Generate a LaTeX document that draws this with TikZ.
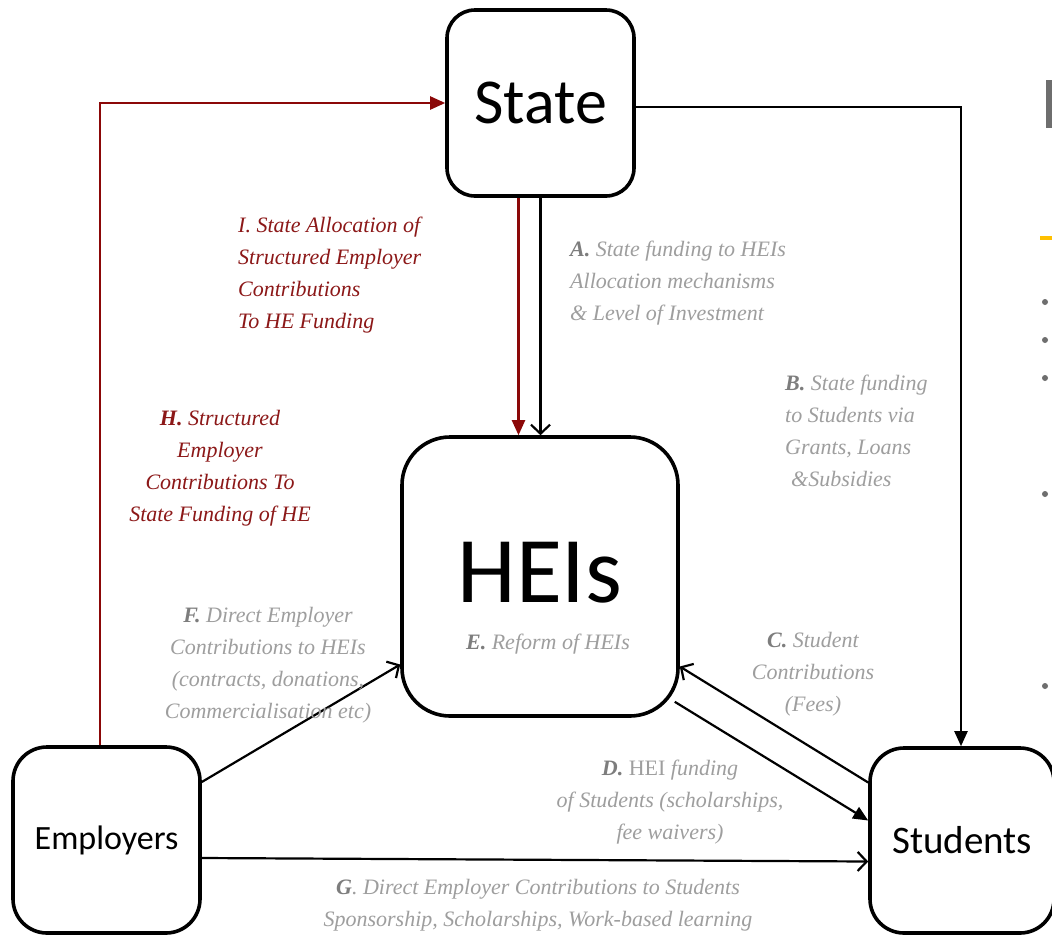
\documentclass[tikz,border=0pt]{standalone}
\usepackage{fontspec}
\setmainfont{Liberation Serif}
\newfontfamily\calib{Carlito}
\newfontfamily\labfont{Liberation Serif}
\usetikzlibrary{arrows.meta}
\definecolor{darkred}{RGB}{139,8,8}
\definecolor{redtext}{RGB}{140,24,24}
\definecolor{lgray}{RGB}{158,158,158}
\definecolor{dgray}{RGB}{125,125,125}
\definecolor{slidegray}{RGB}{110,110,110}
\definecolor{slideyellow}{RGB}{255,192,0}
\tikzset{
  box/.style={draw=black, line width=3.6pt, fill=white, inner sep=0pt, align=center},
  conn/.style={draw=black, line width=2.2pt},
  redconn/.style={draw=darkred, line width=2.2pt},
  filltip/.style={-{Triangle[length=15pt,width=13pt]}},
  opentip/.style={-{Straight Barb[length=9pt,width=19pt,line width=2.2pt]}},
  lab/.style={font=\labfont\itshape\fontsize{22}{32}\selectfont, inner sep=0pt, text=lgray},
  redlab/.style={lab, text=redtext},
}
\newcommand{\bl}[1]{{\bfseries\color{dgray}#1}}
\newcommand{\rbl}[1]{{\bfseries #1}}
\begin{document}
\begin{tikzpicture}[x=1pt,y=-1pt]
\useasboundingbox (0,0) rectangle (1052,935);
\clip (0,0) rectangle (1052,935);
\fill[white] (0,0) rectangle (1052,935);

% slide remnants at right edge
\fill[slidegray] (1046,80) rectangle (1053,128);
\draw[slideyellow, line width=4pt] (1040,238) -- (1053,238);
\foreach \yy in {302,340,378,494,686} \fill[slidegray] (1045,\yy) circle (3pt);

% boxes
\node[box, rounded corners=28pt, minimum width=187pt, minimum height=186pt,
      font=\calib\fontsize{64}{70}\selectfont] (state) at (540.5,103) {State};
\node[box, rounded corners=48pt, minimum width=276pt, minimum height=279pt] (heis) at (540,576.5) {};
\node[font=\calib\fontsize{94}{100}\selectfont, inner sep=0pt] (heistxt) at (540,573) {HEIs};
\node[box, rounded corners=34pt, minimum width=187pt, minimum height=186pt,
      font=\calib\fontsize{34}{38}\selectfont] (emp) at (106.5,840) {Employers};
\node[box, rounded corners=34pt, minimum width=184pt, minimum height=185pt,
      font=\calib\fontsize{39}{44}\selectfont] (stud) at (962,840.5) {Students};

% connectors
\draw[redconn, filltip] ([xshift=-6.5pt]emp.north) |- (state.west);
\draw[conn, filltip] ([yshift=-4pt]state.east) -| ([xshift=-1pt]stud.north);
\draw[redconn, filltip] ([xshift=-22pt]state.south) -- ([xshift=-22pt]state.south |- heis.north);
\draw[conn, opentip] (state.south) -- (state.south |- heis.north);
\draw[conn, opentip] ([yshift=58pt]emp.east) -- ([yshift=-88pt]heis.west);
\draw[conn, opentip] ([yshift=-18pt]emp.east) -- ([yshift=-21pt]stud.west);
\draw[conn, opentip] ([yshift=58pt]stud.west) -- ([yshift=-90pt]heis.east);
\coordinate (dstart) at ([xshift=-5pt,yshift=16pt]heis.south east);
\draw[conn, filltip] (dstart) -- ([yshift=20pt]stud.west);

% labels
\node[redlab, anchor=west, align=left] (li) at (238,275.5)
  {I. State Allocation of\\Structured Employer\\Contributions\\To HE Funding};
\node[lab, anchor=west, align=left] (la) at (570,283)
  {\bl{A.} State funding to HEIs\\Allocation mechanisms\\\& Level of Investment};
\node[lab, anchor=west, align=left] (lb) at (785,431)
  {\bl{B.} State funding\\to Students via\\Grants, Loans\\\hspace{6pt}\&Subsidies};
\node[redlab, align=center] (lh) at (220,468.5)
  {\rbl{H.} Structured\\Employer\\Contributions To\\State Funding of HE};
\node[lab, align=center] (lf) at (268,665)
  {\bl{F.} Direct Employer\\Contributions to HEIs\\(contracts, donations,\\Commercialisation etc)};
\node[lab, align=center] (le) at (548,644) {\bl{E.} Reform of HEIs};
\node[lab, align=center] (lc) at (813,674)
  {\bl{C.} Student\\Contributions\\(Fees)};
\node[lab, align=center] (ld) at (670,802)
  {\bl{D.} {\upshape HEI} funding\\of Students (scholarships,\\fee waivers)};
\node[lab, align=center] (lg) at (538,905)
  {\bl{G}. Direct Employer Contributions to Students\\Sponsorship, Scholarships, Work-based learning};
\end{tikzpicture}
\end{document}
